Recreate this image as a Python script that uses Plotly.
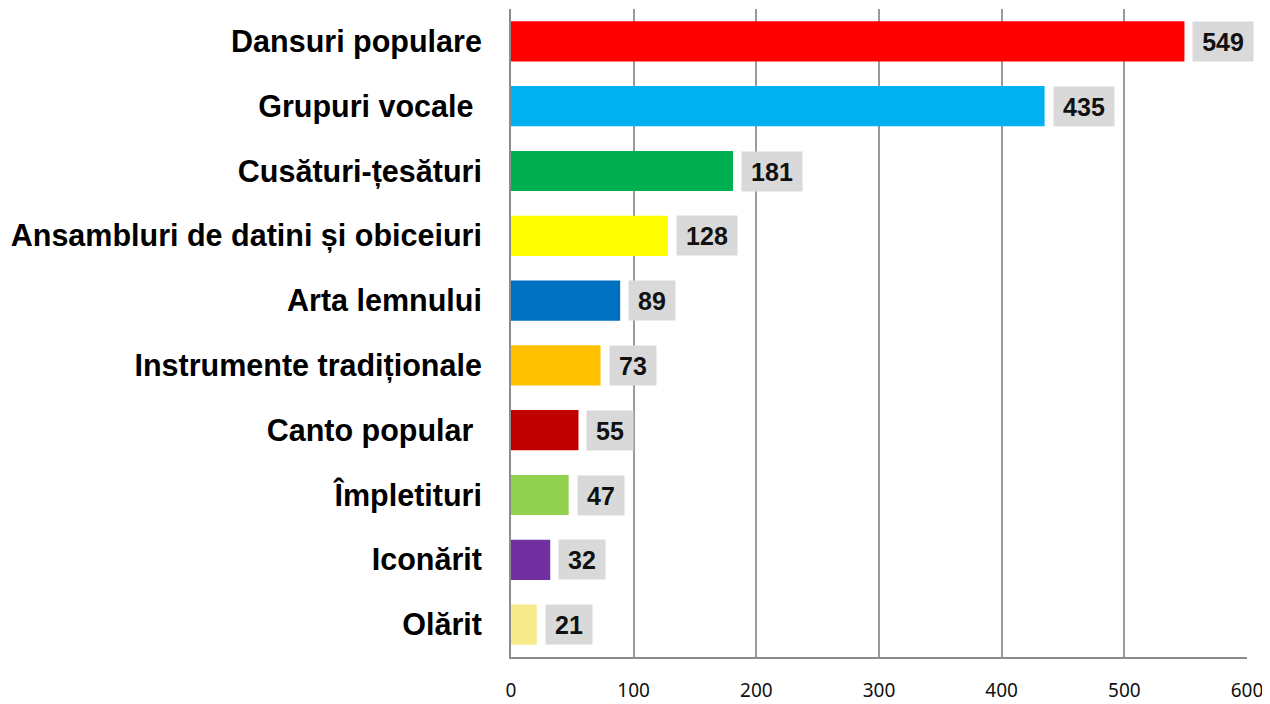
import plotly.graph_objects as go

categories = ["Dansuri populare", "Grupuri vocale\u00a0", "Cusături-țesături",
              "Ansambluri de datini și obiceiuri", "Arta lemnului",
              "Instrumente tradiționale", "Canto popular\u00a0", "Împletituri",
              "Iconărit", "Olărit"]
values = [549, 435, 181, 128, 89, 73, 55, 47, 32, 21]
colors = ["#FF0000", "#00B0F0", "#00B050", "#FFFF00", "#0070C0",
          "#FFC000", "#C00000", "#92D050", "#7030A0", "#F6EA8C"]
x_ticks = [0, 100, 200, 300, 400, 500, 600]

fig = go.Figure()
fig.add_trace(go.Bar(
    y=categories, x=values, orientation="h",
    marker=dict(color=colors, line=dict(width=0)),
    width=0.62, hoverinfo="x+y",
))

for c, v in zip(categories, values):
    n = len(str(v))
    fig.add_annotation(
        x=v, y=c, xref="x", yref="y", text=f"<b>{v}</b>",
        showarrow=False, xanchor="left", yanchor="middle", xshift=8,
        bgcolor="#D9D9D9", borderpad=8, width=14 * n + 2, height=23,
        font=dict(family="Liberation Sans, Arial", size=25, color="#111111"),
    )

# page body has an 8px default margin, so the figure is sized to fit the window
fig.update_layout(
    width=1262, height=696,
    margin=dict(l=503, r=23, t=1, b=47),
    plot_bgcolor="white", paper_bgcolor="white",
    showlegend=False,
    bargap=0.38,
)
fig.update_xaxes(
    range=[0, 600], tickvals=x_ticks, ticktext=[str(t) for t in x_ticks],
    showgrid=True, gridcolor="#9A9A9A", gridwidth=1.5,
    showline=True, linecolor="#8C8C8C", linewidth=2,
    zeroline=False, ticks="", ticklabelstandoff=15, automargin=False,
    tickfont=dict(family="Noto Sans", size=19, color="#111111"),
)
fig.update_yaxes(
    categoryorder="array", categoryarray=categories, autorange="reversed",
    showline=True, linecolor="#8C8C8C", linewidth=2, showgrid=False,
    ticks="", ticklabelstandoff=21, automargin=False,
    tickfont=dict(family="Liberation Sans, Arial", size=30.5, color="#000000", weight="bold"),
)

fig.write_html("out.html")
